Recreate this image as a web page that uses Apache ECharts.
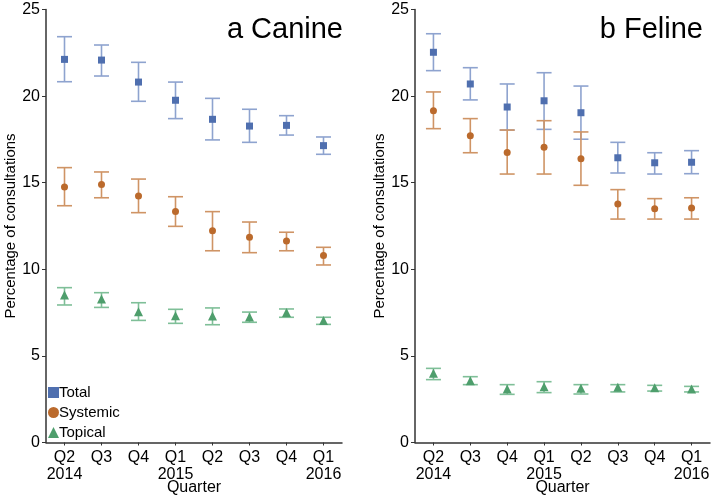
<!DOCTYPE html>
<html><head><meta charset="utf-8">
<script src="https://cdn.jsdelivr.net/npm/echarts@6/dist/echarts.min.js"></script>
<style>html,body{margin:0;padding:0;background:#fff}#c{width:714px;height:499px}</style>
</head><body><div id="c"></div>
<script>
const quarters = ['Q2\n2014','Q3','Q4','Q1\n2015','Q2','Q3','Q4','Q1\n2016'];
const yTicks = [0,5,10,15,20,25];
// Canine
const canineTotal     = [22.12,22.08,20.81,19.76,18.66,18.27,18.31,17.14];
const canineTotalLo   = [20.83,21.16,19.70,18.70,17.47,17.33,17.75,16.64];
const canineTotalHi   = [23.43,22.95,21.95,20.81,19.87,19.24,18.87,17.64];
const canineSys       = [14.75,14.89,14.23,13.33,12.23,11.85,11.63,10.79];
const canineSysLo     = [13.67,14.13,13.27,12.48,11.07,10.96,11.07,10.25];
const canineSysHi     = [15.87,15.62,15.21,14.19,13.33,12.73,12.14,11.27];
const canineTop       = [8.52,8.29,7.55,7.32,7.30,7.25,7.50,7.05];
const canineTopLo     = [7.94,7.80,7.05,6.88,6.80,6.94,7.23,6.82];
const canineTopHi     = [8.94,8.65,8.07,7.69,7.77,7.53,7.71,7.23];
// Feline
const felineTotal     = [22.53,20.70,19.37,19.73,19.04,16.44,16.15,16.18];
const felineTotalLo   = [21.47,19.78,18.04,18.08,17.51,15.56,15.50,15.52];
const felineTotalHi   = [23.60,21.64,20.70,21.35,20.58,17.33,16.73,16.85];
const felineSys       = [19.16,17.71,16.75,17.04,16.39,13.77,13.50,13.54];
const felineSysLo     = [18.12,16.73,15.50,15.50,14.85,12.90,12.90,12.90];
const felineSysHi     = [20.24,18.70,18.04,18.58,17.93,14.60,14.08,14.13];
const felineTop       = [4.00,3.57,3.09,3.22,3.13,3.19,3.16,3.09];
const felineTopLo     = [3.63,3.34,2.78,2.88,2.80,2.92,2.97,2.92];
const felineTopHi     = [4.28,3.80,3.34,3.51,3.34,3.34,3.30,3.24];

const seriesNames = ['Total','Systemic','Topical'];
const C_BLUE = '#4f6faf', C_ORANGE = '#bb6a2c', C_GREEN = '#4e9e6c';
const E_BLUE = '#8ea3cf', E_ORANGE = '#cf9465', E_GREEN = '#7fbf98';
const FONT = 'Liberation Sans, Arial, Helvetica, sans-serif';

function errSeries(name, lo, hi, color, idx) {
  return {
    type: 'custom', name: name + ' error', xAxisIndex: idx, yAxisIndex: idx, z: 2,
    data: lo.map((v, i) => [i, v, hi[i]]),
    renderItem: function (params, api) {
      const x = api.value(0);
      const a = api.coord([x, api.value(1)]);
      const b = api.coord([x, api.value(2)]);
      const hw = 7.5;
      const st = { stroke: color, lineWidth: 1.6 };
      return { type: 'group', children: [
        { type: 'line', shape: { x1: a[0], y1: a[1], x2: b[0], y2: b[1] }, style: st },
        { type: 'line', shape: { x1: a[0]-hw, y1: a[1], x2: a[0]+hw, y2: a[1] }, style: st },
        { type: 'line', shape: { x1: b[0]-hw, y1: b[1], x2: b[0]+hw, y2: b[1] }, style: st }
      ]};
    }
  };
}
function ptSeries(name, vals, color, symbol, size, idx) {
  return { type: 'scatter', name: name, xAxisIndex: idx, yAxisIndex: idx, z: 3,
    symbol: symbol, symbolSize: size, itemStyle: { color: color, opacity: 1 },
    data: vals.map((v, i) => [i, v]) };
}
function xAxis(idx) {
  return { type: 'category', gridIndex: idx, data: quarters, boundaryGap: true,
    name: 'Quarter', nameLocation: 'middle', nameGap: 37, nameMoveOverlap: false,
    nameTextStyle: { fontFamily: FONT, fontSize: 16, color: '#000' },
    axisLine: { lineStyle: { color: '#333', width: 1.5 } },
    axisTick: { show: true, alignWithLabel: true, length: 3, lineStyle: { color: '#333' } },
    axisLabel: { fontFamily: FONT, fontSize: 16, color: '#000', lineHeight: 16.5, margin: 7, interval: 0 },
    splitLine: { show: false } };
}
function yAxis(idx) {
  return { type: 'value', gridIndex: idx, min: 0, max: 25, interval: 5,
    name: 'Percentage of consultations', nameLocation: 'middle', nameGap: 28, nameMoveOverlap: false,
    nameTextStyle: { fontFamily: FONT, fontSize: 15, color: '#000' },
    axisLine: { show: true, lineStyle: { color: '#333', width: 1.5 } },
    axisTick: { show: true, length: 4, lineStyle: { color: '#333' } },
    axisLabel: { fontFamily: FONT, fontSize: 16, color: '#000', margin: 6 },
    splitLine: { show: false } };
}

const chart = echarts.init(document.getElementById('c'), null, { renderer: 'canvas' });
chart.setOption({
  animation: false,
  backgroundColor: '#fff',
  title: [
    { text: 'a Canine', right: 366, top: 10, textStyle: { fontFamily: FONT, fontSize: 29, fontWeight: 'normal', color: '#000' } },
    { text: 'b Feline', right: 6, top: 10, textStyle: { fontFamily: FONT, fontSize: 29, fontWeight: 'normal', color: '#000' } }
  ],
  legend: {
    orient: 'vertical', left: 48, top: 385, padding: 0, itemGap: 5, itemWidth: 11, itemHeight: 11,
    textStyle: { fontFamily: FONT, fontSize: 15, color: '#000', padding: [0,0,0,-5] },
    data: [
      { name: 'Total', icon: 'rect', itemStyle: { color: C_BLUE } },
      { name: 'Systemic', icon: 'circle', itemStyle: { color: C_ORANGE } },
      { name: 'Topical', icon: 'triangle', itemStyle: { color: C_GREEN } }
    ]
  },
  grid: [
    { left: 46, right: 372, top: 9.5, bottom: 56.5, outerBoundsMode: 'none', containLabel: false },
    { left: 415, right: 4, top: 9.5, bottom: 56.5, outerBoundsMode: 'none', containLabel: false }
  ],
  xAxis: [xAxis(0), xAxis(1)],
  yAxis: [yAxis(0), yAxis(1)],
  series: [
    errSeries('Total', canineTotalLo, canineTotalHi, E_BLUE, 0),
    errSeries('Systemic', canineSysLo, canineSysHi, E_ORANGE, 0),
    errSeries('Topical', canineTopLo, canineTopHi, E_GREEN, 0),
    ptSeries('Total', canineTotal, C_BLUE, 'rect', 7, 0),
    ptSeries('Systemic', canineSys, C_ORANGE, 'circle', 7, 0),
    ptSeries('Topical', canineTop, C_GREEN, 'triangle', 9, 0),
    errSeries('Total', felineTotalLo, felineTotalHi, E_BLUE, 1),
    errSeries('Systemic', felineSysLo, felineSysHi, E_ORANGE, 1),
    errSeries('Topical', felineTopLo, felineTopHi, E_GREEN, 1),
    ptSeries('Total', felineTotal, C_BLUE, 'rect', 7, 1),
    ptSeries('Systemic', felineSys, C_ORANGE, 'circle', 7, 1),
    ptSeries('Topical', felineTop, C_GREEN, 'triangle', 9, 1)
  ]
});
</script></body></html>
